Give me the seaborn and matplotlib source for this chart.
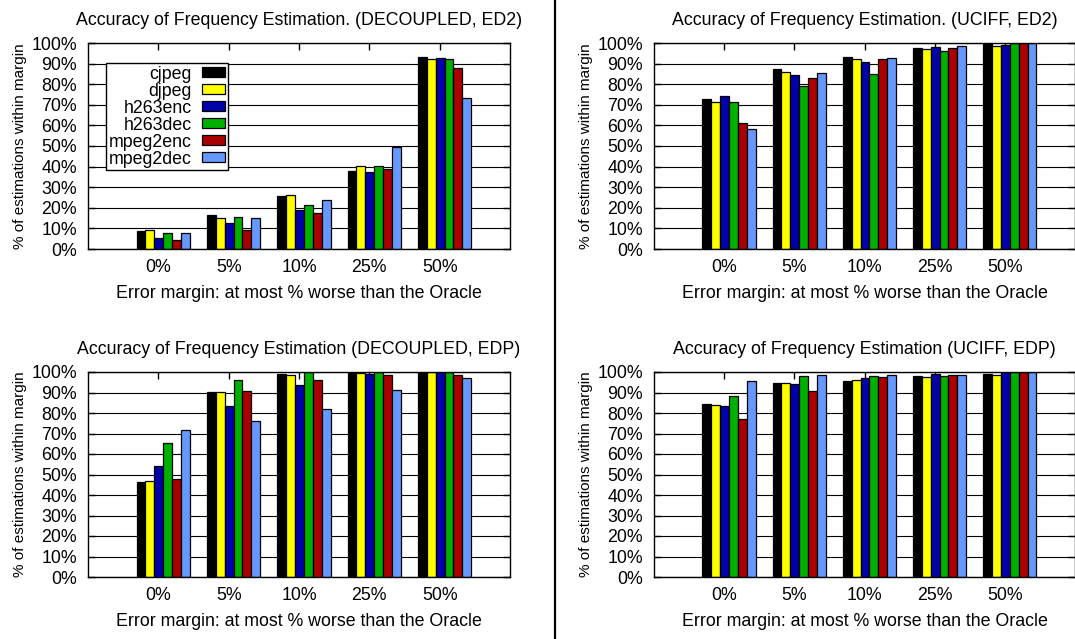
import numpy as np
import pandas as pd
import seaborn as sns
from matplotlib import pyplot as plt
from matplotlib.lines import Line2D
from matplotlib import font_manager

margins = ["0%", "5%", "10%", "25%", "50%"]
benchmarks = ["cjpeg", "djpeg", "h263enc", "h263dec", "mpeg2enc", "mpeg2dec"]
colors = ["#000000", "#ffff00", "#0000aa", "#00b000", "#aa0000", "#6699ff"]

# one list per benchmark, values in % for margins 0, 5, 10, 25, 50
decoupled_ed2 = {
    "cjpeg": [8.8, 16.5, 25.9, 38.1, 93.4],
    "djpeg": [9.1, 15.2, 26.3, 40.2, 92.2],
    "h263enc": [5.2, 12.6, 18.8, 37.6, 92.7],
    "h263dec": [7.8, 15.4, 21.2, 40.4, 92.4],
    "mpeg2enc": [4.2, 9.4, 17.5, 38.7, 88.0],
    "mpeg2dec": [7.6, 15.1, 24.0, 49.4, 73.3],
}
uciff_ed2 = {
    "cjpeg": [72.9, 87.2, 93.0, 97.7, 100.0],
    "djpeg": [71.5, 85.9, 92.1, 97.2, 98.7],
    "h263enc": [74.1, 84.6, 90.8, 98.2, 99.2],
    "h263dec": [71.3, 79.1, 84.8, 96.1, 100.0],
    "mpeg2enc": [61.3, 82.8, 92.2, 97.4, 100.0],
    "mpeg2dec": [58.3, 85.3, 92.7, 98.7, 100.0],
}
decoupled_edp = {
    "cjpeg": [46.5, 90.4, 98.9, 100.0, 100.0],
    "djpeg": [47.0, 90.4, 98.7, 99.7, 100.0],
    "h263enc": [54.3, 83.5, 93.8, 99.2, 100.0],
    "h263dec": [65.3, 96.1, 100.0, 100.0, 100.0],
    "mpeg2enc": [48.0, 90.6, 96.1, 98.7, 98.7],
    "mpeg2dec": [71.8, 76.2, 82.0, 91.1, 97.1],
}
uciff_edp = {
    "cjpeg": [84.4, 94.7, 95.8, 97.9, 99.0],
    "djpeg": [83.8, 94.8, 95.9, 97.7, 98.7],
    "h263enc": [83.5, 94.0, 96.9, 99.2, 100.0],
    "h263dec": [88.5, 98.2, 98.2, 98.1, 100.0],
    "mpeg2enc": [77.3, 90.8, 97.4, 98.7, 100.0],
    "mpeg2dec": [95.6, 98.7, 98.7, 98.7, 100.0],
}

titles = [
    "Accuracy of Frequency Estimation. (DECOUPLED, ED2)",
    "Accuracy of Frequency Estimation. (UCIFF, ED2)",
    "Accuracy of Frequency Estimation (DECOUPLED, EDP)",
    "Accuracy of Frequency Estimation (UCIFF, EDP)",
]
panels = [decoupled_ed2, uciff_ed2, decoupled_edp, uciff_edp]


def to_long(d):
    rows = []
    for b in benchmarks:
        for m, v in zip(margins, d[b]):
            rows.append({"margin": m, "benchmark": b, "value": v})
    return pd.DataFrame(rows)


sns.set_style("white")
plt.rcParams["font.family"] = ["Liberation Sans", "DejaVu Sans"]
fs = 12.8
plt.rcParams["font.size"] = fs
for k in ["text.color", "axes.labelcolor", "xtick.color", "ytick.color"]:
    plt.rcParams[k] = "black"

# the y label in the original is set in a condensed face
installed = {f.name for f in font_manager.fontManager.ttflist}
if "Liberation Sans Narrow" in installed:
    ylab_font = dict(family="Liberation Sans Narrow", fontsize=12.5)
else:
    ylab_font = dict(fontsize=11)

W, H = 1075, 639
fig = plt.figure(figsize=(W / 100, H / 100), dpi=100)

# pixel boxes: left, top, right, bottom
boxes = [(88, 43, 510, 249), (654, 43, 1075, 249),
         (88, 372, 510, 577), (654, 372, 1075, 577)]

for i, (data, title, box) in enumerate(zip(panels, titles, boxes)):
    l, t, r, b = box
    ax = fig.add_axes([l / W, 1 - b / H, (r - l) / W, (b - t) / H])
    df = to_long(data)
    sns.barplot(data=df, x="margin", y="value", hue="benchmark",
                order=margins, hue_order=benchmarks, palette=colors,
                width=0.76, edgecolor="black", linewidth=0.9,
                saturation=1, legend=(i == 0), ax=ax, zorder=2)
    ax.set_xlim(-1.07, 4.93)
    ax.set_xticks(np.arange(5) - 0.07, margins)
    ax.set_ylim(0, 100)
    ax.set_yticks(range(0, 101, 10), [f"{v}%" for v in range(0, 101, 10)])
    ax.yaxis.grid(True, color="black", lw=0.8)
    ax.set_axisbelow(True)
    ax.tick_params(axis="y", direction="in", left=True, right=True,
                   length=5, width=1, pad=8, labelsize=fs)
    ax.tick_params(axis="x", direction="in", bottom=False, top=True,
                   length=5, width=1, pad=7, labelsize=fs)
    for s in ax.spines.values():
        s.set_color("black")
        s.set_linewidth(1)
    ax.set_title(title, fontsize=fs, pad=13)
    ax.set_xlabel("Error margin: at most % worse than the Oracle", labelpad=7)
    ax.set_ylabel("% of estimations within margin", labelpad=3, **ylab_font)
    if i == 0:
        leg = ax.get_legend()
        handles = leg.legend_handles
        labels = [tx.get_text() for tx in leg.get_texts()]
        ax.legend(handles, labels, loc="upper left",
                  bbox_to_anchor=(0.043, 0.903), borderaxespad=0,
                  markerfirst=False, frameon=True, fancybox=False,
                  edgecolor="black", framealpha=1, fontsize=fs,
                  handlelength=1.3, handleheight=0.5, labelspacing=0.0,
                  handletextpad=0.6, borderpad=0.15)
        ax.get_legend().get_frame().set_linewidth(1)
        ax.get_legend().set_zorder(5)

fig.add_artist(Line2D([555 / W, 555 / W], [0, 1], color="black", lw=1.6))

fig.savefig("out.png", dpi=100)
